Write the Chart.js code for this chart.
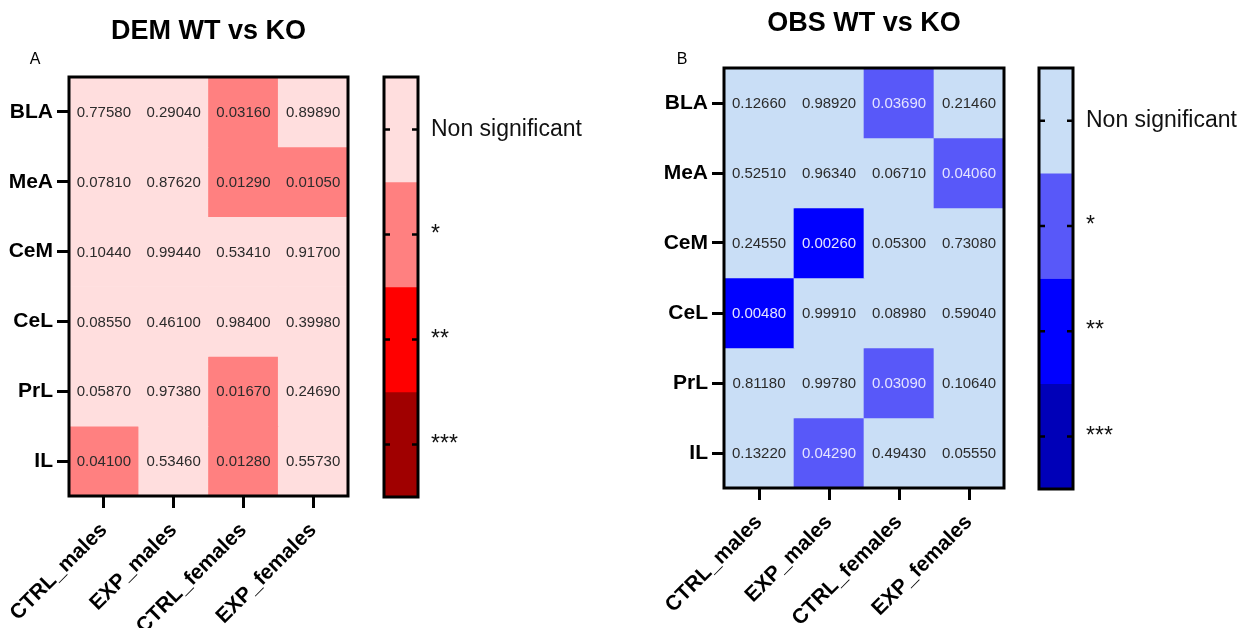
<!DOCTYPE html>
<html>
<head>
<meta charset="utf-8">
<script src="https://cdn.jsdelivr.net/npm/chart.js@4.4.1/dist/chart.umd.min.js"></script>
<style>
    body { margin: 0; background: #fff; width: 1260px; height: 628px; overflow: hidden; position: relative; }
    .box { position: absolute; top: 0; height: 628px; }
</style>
</head>
<body>
<div class="box" style="left:0;width:416px"><canvas id="heat_dem"></canvas></div>
<div class="box" style="left:370px;width:250px"><canvas id="bar_dem"></canvas></div>
<div class="box" style="left:655px;width:416px"><canvas id="heat_obs"></canvas></div>
<div class="box" style="left:1025px;width:235px"><canvas id="bar_obs"></canvas></div>

<script>
// regions (rows, top to bottom) and groups (columns)
const regions = ['BLA', 'MeA', 'CeM', 'CeL', 'PrL', 'IL']
const groups = ['CTRL_males', 'EXP_males', 'CTRL_females', 'EXP_females']

// p values, one row per region
const demP = [
    [0.7758, 0.2904, 0.0316, 0.8989],
    [0.0781, 0.8762, 0.0129, 0.0105],
    [0.1044, 0.9944, 0.5341, 0.9170],
    [0.0855, 0.4610, 0.9840, 0.3998],
    [0.0587, 0.9738, 0.0167, 0.2469],
    [0.0410, 0.5346, 0.0128, 0.5573]
]
const obsP = [
    [0.1266, 0.9892, 0.0369, 0.2146],
    [0.5251, 0.9634, 0.0671, 0.0406],
    [0.2455, 0.0026, 0.0530, 0.7308],
    [0.0048, 0.9991, 0.0898, 0.5904],
    [0.8118, 0.9978, 0.0309, 0.1064],
    [0.1322, 0.0429, 0.4943, 0.0555]
]

// significance levels for the colour bar
const levels = ['Non significant', '*', '**', '***']
const cutoffs = [0.05, 0.01, 0.001]

const redColors = ['#FFDEDE', '#FF8080', '#FF0000', '#A00000']
const blueColors = ['#C9DEF6', '#5858F9', '#0000FF', '#0000B8']

const FONT = "'Liberation Sans', Arial, sans-serif"
Chart.defaults.font.family = FONT
Chart.defaults.color = '#000'

function level(p) {
    let k = 0
    cutoffs.forEach(function(c) { if (p < c) k++ })
    return k
}

// black frame around the plot area
const frame = {
    id: 'frame',
    afterDraw(chart) {
        const a = chart.chartArea
        const ctx = chart.ctx
        ctx.save()
        ctx.strokeStyle = '#000'
        ctx.lineWidth = 3
        ctx.strokeRect(a.left, a.top, a.right - a.left, a.bottom - a.top)
        ctx.restore()
    }
}

// p value written in each cell
const cellText = {
    id: 'cellText',
    afterDatasetsDraw(chart, args, opts) {
        const ctx = chart.ctx
        ctx.save()
        ctx.font = '15px ' + FONT
        ctx.textAlign = 'center'
        ctx.textBaseline = 'middle'
        chart.data.datasets.forEach(function(ds, i) {
            chart.getDatasetMeta(i).data.forEach(function(bar, j) {
                const p = ds.pvals[j]
                const c = bar.getCenterPoint()
                ctx.fillStyle = (opts.light && level(p) > 0) ? '#E4E4FF' : '#2b2b2b'
                ctx.fillText(p.toFixed(5), c.x, c.y + 1)
            })
        })
        ctx.restore()
    }
}

// panel letter (A / B)
const cornerTag = {
    id: 'cornerTag',
    afterDraw(chart, args, opts) {
        const ctx = chart.ctx
        ctx.save()
        ctx.font = '16px ' + FONT
        ctx.fillStyle = '#000'
        ctx.textAlign = 'center'
        ctx.textBaseline = 'middle'
        ctx.fillText(opts.text, chart.chartArea.left + opts.dx, chart.chartArea.top + opts.dy)
        ctx.restore()
    }
}

// short tick marks on the inner edges of the colour bar
const innerTicks = {
    id: 'innerTicks',
    afterDatasetsDraw(chart) {
        const a = chart.chartArea
        const y = chart.scales.y
        const ctx = chart.ctx
        ctx.save()
        ctx.strokeStyle = '#000'
        ctx.lineWidth = 2.5
        y.ticks.forEach(function(t) {
            const py = y.getPixelForValue(t.value)
            ctx.beginPath()
            ctx.moveTo(a.left, py); ctx.lineTo(a.left + 6, py)
            ctx.moveTo(a.right - 6, py); ctx.lineTo(a.right, py)
            ctx.stroke()
        })
        ctx.restore()
    }
}

function heatmap(id, title, tag, pvals, colors, light, lay) {
    const n = regions.length
    return new Chart(document.getElementById(id), {
        type: 'bar',
        data: {
            labels: groups,
            datasets: regions.map(function(r, i) {
                return {
                    label: r,
                    data: groups.map(function() { return [n - 1 - i, n - i] }),
                    pvals: pvals[i],
                    backgroundColor: pvals[i].map(function(p) { return colors[level(p)] }),
                    borderWidth: 0,
                    barPercentage: 1,
                    categoryPercentage: 1,
                    grouped: false
                }
            })
        },
        options: {
            responsive: true,
            maintainAspectRatio: false,
            animation: false,
            layout: { padding: { left: 0, right: lay.padRight, top: 0, bottom: 0 } },
            plugins: {
                legend: { display: false },
                tooltip: { enabled: false },
                title: {
                    display: true,
                    fullSize: false,
                    text: title,
                    color: '#000',
                    font: { size: 27, weight: 'bold' },
                    padding: { top: lay.titleTop, bottom: lay.titleBottom }
                },
                cornerTag: { text: tag, dx: lay.tagDx, dy: lay.tagDy },
                cellText: { light: light }
            },
            scales: {
                x: {
                    grid: { offset: false, drawOnChartArea: false, tickLength: 12, lineWidth: 3, color: '#000' },
                    border: { display: false },
                    ticks: {
                        color: '#000',
                        font: { size: 21, weight: 'bold' },
                        minRotation: 45,
                        maxRotation: 45,
                        autoSkip: false,
                        padding: 10
                    },
                    afterFit: function(s) { s.height = lay.xHeight; s.paddingLeft = 0; s.paddingRight = 0 }
                },
                y: {
                    min: 0,
                    max: n,
                    afterBuildTicks: function(s) {
                        s.ticks = regions.map(function(r, i) { return { value: n - 0.5 - i } })
                    },
                    ticks: {
                        color: '#000',
                        font: { size: 21, weight: 'bold' },
                        padding: 4,
                        callback: function(v) { return regions[Math.round(n - 0.5 - v)] }
                    },
                    grid: { drawOnChartArea: false, tickLength: 12, lineWidth: 3, color: '#000' },
                    border: { display: false },
                    afterFit: function(s) { s.width = 69; s.paddingTop = 0; s.paddingBottom = 0 }
                }
            }
        },
        plugins: [cellText, frame, cornerTag]
    })
}

function colorbar(id, colors, lay) {
    const m = levels.length
    return new Chart(document.getElementById(id), {
        type: 'bar',
        data: {
            labels: [''],
            datasets: levels.map(function(l, k) {
                return {
                    label: l,
                    data: [[m - 1 - k, m - k]],
                    backgroundColor: colors[k],
                    borderWidth: 0,
                    barPercentage: 1,
                    categoryPercentage: 1,
                    grouped: false
                }
            })
        },
        options: {
            responsive: true,
            maintainAspectRatio: false,
            animation: false,
            layout: { padding: { left: 14, right: 0, top: lay.top, bottom: lay.bottom } },
            plugins: { legend: { display: false }, tooltip: { enabled: false } },
            scales: {
                x: { display: false },
                y: {
                    position: 'right',
                    min: 0,
                    max: m,
                    afterBuildTicks: function(s) {
                        s.ticks = levels.map(function(l, k) { return { value: m - 0.5 - k } })
                    },
                    ticks: {
                        color: '#111',
                        font: { size: 23 },
                        padding: 13,
                        callback: function(v) { return levels[Math.round(m - 0.5 - v)] }
                    },
                    grid: { display: false, drawTicks: false },
                    border: { display: false },
                    afterFit: function(s) { s.width = lay.axisWidth; s.paddingTop = 0; s.paddingBottom = 0 }
                }
            }
        },
        plugins: [innerTicks, frame]
    })
}

heatmap('heat_dem', 'DEM WT vs KO', 'A', demP, redColors, false,
    { padRight: 68, titleTop: 15.8, titleBottom: 28.8, xHeight: 132, tagDx: -34, tagDy: -17 })
colorbar('bar_dem', redColors, { top: 77, bottom: 131, axisWidth: 202 })

heatmap('heat_obs', 'OBS WT vs KO', 'B', obsP, blueColors, true,
    { padRight: 67, titleTop: 7.8, titleBottom: 27.8, xHeight: 140, tagDx: -42, tagDy: -8 })
colorbar('bar_obs', blueColors, { top: 68, bottom: 139, axisWidth: 187 })
</script>
</body>
</html>
